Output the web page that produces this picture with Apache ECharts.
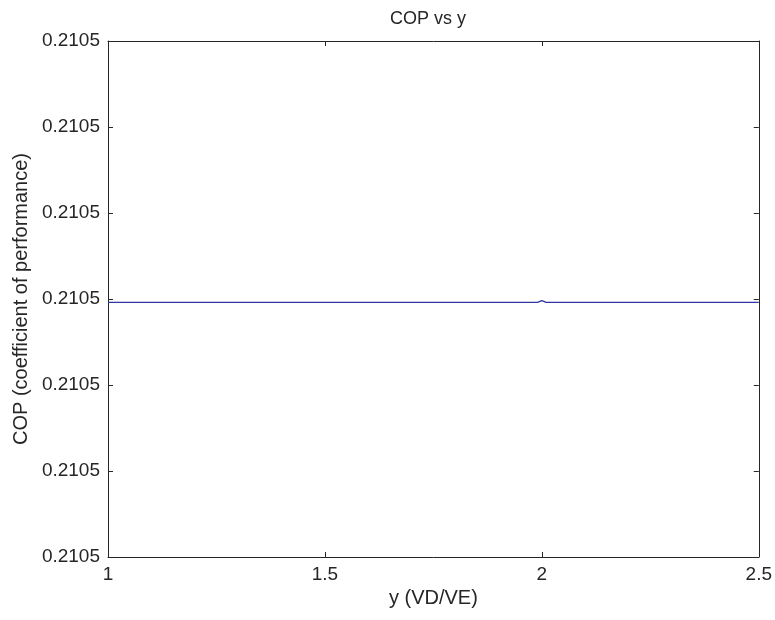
<!DOCTYPE html>
<html>
<head>
<meta charset="utf-8">
<script src="https://cdn.jsdelivr.net/npm/echarts@6/dist/echarts.min.js"></script>
<style>html,body{margin:0;padding:0;background:#fff;}#c{width:775px;height:620px;}</style>
</head>
<body>
<div id="c"></div>
<script>
const titleText = 'COP vs y';
const xName = 'y (VD/VE)';
const yName = 'COP (coefficient of performance)';
const xValues = [1.0, 1.99, 2.0, 2.01, 2.5];
const copValues = [0.21050296, 0.21050296, 0.21050298, 0.21050296, 0.21050296];
const xTicks = [1, 1.5, 2, 2.5];
const yTickLabel = '0.2105';

const chart = echarts.init(document.getElementById('c'), null, {renderer: 'canvas'});
const font = 'Liberation Sans, Arial, sans-serif';
const axisColor = '#262626';
const textColor = '#262626';
const common = {
  axisLine: {show: true, onZero: false, lineStyle: {color: axisColor, width: 1}},
  axisTick: {show: true, inside: true, length: 5, lineStyle: {color: axisColor}},
  splitLine: {show: false}
};
chart.setOption({
  animation: false,
  backgroundColor: '#fff',
  title: {text: titleText, left: 423, top: 5, textAlign: 'center',
    textStyle: {fontFamily: font, fontSize: 18, fontWeight: 'normal', color: textColor}},
  grid: {left: 108, right: 15, top: 41, bottom: 63, containLabel: false},
  xAxis: [
    Object.assign({type: 'value', min: 1, max: 2.5, interval: 0.5, position: 'bottom',
      name: xName, nameLocation: 'middle', nameGap: 30,
      nameTextStyle: {fontFamily: font, fontSize: 20, color: textColor},
      axisLabel: {show: true, margin: 8, fontFamily: font, fontSize: 19, color: textColor,
        formatter: v => xTicks.includes(v) ? String(v) : ''}}, common),
    Object.assign({type: 'value', min: 1, max: 2.5, interval: 0.5, position: 'top',
      axisLabel: {show: false}}, common)
  ],
  yAxis: [
    Object.assign({type: 'value', min: 0.2105, max: 0.210506, interval: 0.000001, position: 'left',
      name: yName, nameLocation: 'middle', nameGap: 73, nameRotate: 90,
      nameTextStyle: {fontFamily: font, fontSize: 20, color: textColor},
      axisLabel: {show: true, margin: 8, fontFamily: font, fontSize: 19, color: textColor,
        formatter: () => yTickLabel}}, common),
    Object.assign({type: 'value', min: 0.2105, max: 0.210506, interval: 0.000001, position: 'right',
      axisLabel: {show: false}}, common)
  ],
  series: [{
    type: 'line',
    data: xValues.map((x, i) => [x, copValues[i]]),
    showSymbol: false,
    lineStyle: {color: '#2f37a0', width: 1.3},
    itemStyle: {color: '#2f37a0'}
  }]
});
</script>
</body>
</html>
